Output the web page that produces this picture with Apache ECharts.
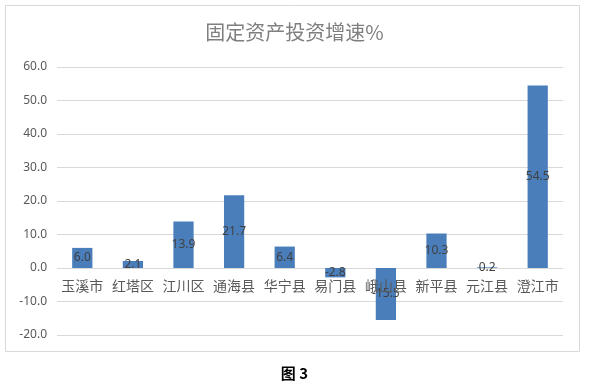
<!DOCTYPE html>
<html><head><meta charset="utf-8">
<script src="https://cdn.jsdelivr.net/npm/echarts@6/dist/echarts.min.js"></script>
<style>html,body{margin:0;padding:0;background:#fff;}#c{width:589px;height:387px;}</style>
</head><body><div id="c"></div>
<script>
const categories = ['玉溪市','红塔区','江川区','通海县','华宁县','易门县','峨山县','新平县','元江县','澄江市'];
const values = [6.0, 2.1, 13.9, 21.7, 6.4, -2.8, -15.5, 10.3, 0.2, 54.5];
const chartTitle = '固定资产投资增速%';
const caption = '图 3';

const chart = echarts.init(document.getElementById('c'));
chart.setOption({
  animation: false,
  backgroundColor: '#fff',
  graphic: [{
    type: 'rect', shape: {x: 5.5, y: 5.5, width: 574, height: 346},
    style: {fill: 'none', stroke: '#d9d9d9', lineWidth: 1}, silent: true, z: -1
  }],
  title: [{
    text: chartTitle, left: 'center', top: 17,
    textStyle: {fontFamily: 'Noto Sans CJK SC', fontSize: 20, fontWeight: 'normal', color: '#7f7f7f'}
  }, {
    text: caption, left: 'center', top: 361,
    textStyle: {fontFamily: 'Noto Sans CJK SC', fontSize: 15, fontWeight: 'bold', color: '#000'}
  }],
  grid: {left: 57, right: 26, top: 67, bottom: 52, containLabel: false},
  xAxis: {
    type: 'category', data: categories, position: 'bottom', offset: -67, z: 10,
    axisLine: {show: false, onZero: false},
    axisTick: {show: false},
    axisLabel: {fontFamily: 'Noto Sans CJK SC', fontSize: 14, color: '#595959', margin: 11, interval: 0}
  },
  yAxis: {
    type: 'value', min: -20, max: 60, interval: 10,
    axisLine: {show: false}, axisTick: {show: false},
    axisLabel: {fontFamily: 'Noto Sans', fontSize: 12, color: '#595959', margin: 10,
      formatter: v => v.toFixed(1)},
    splitLine: {lineStyle: {color: '#d9d9d9'}}
  },
  series: [{
    type: 'bar', data: values, barWidth: '40%',
    itemStyle: {color: '#4a7ebb'},
    label: {show: true, position: 'inside', fontFamily: 'Noto Sans', fontSize: 12, color: '#404040',
      formatter: p => p.value.toFixed(1)}
  }]
});
</script></body></html>
